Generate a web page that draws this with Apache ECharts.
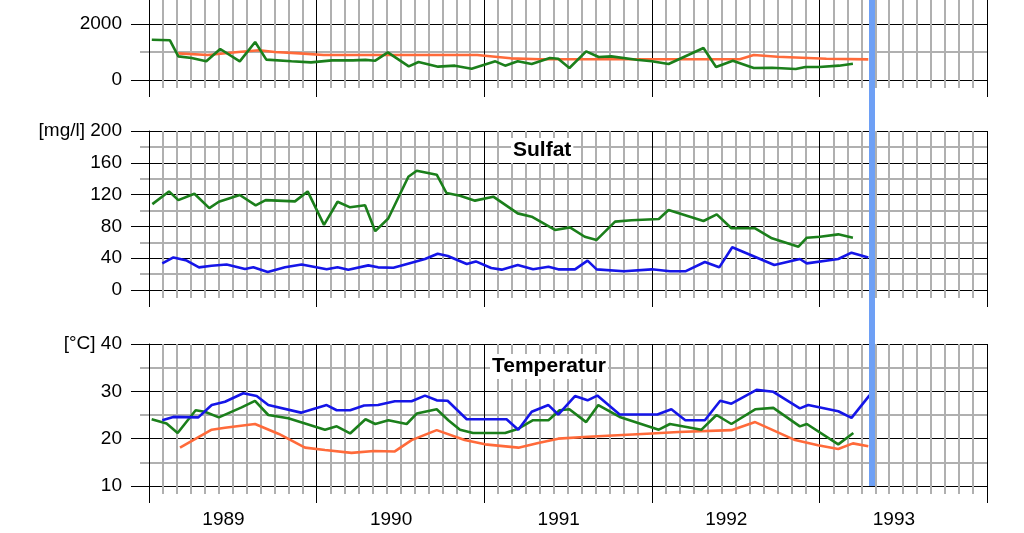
<!DOCTYPE html>
<html>
<head>
<meta charset="utf-8">
<script src="https://cdn.jsdelivr.net/npm/echarts@6/dist/echarts.min.js"></script>
<style>
html,body{margin:0;padding:0;background:#fff;}
#chart{width:1024px;height:533px;}
</style>
</head>
<body>
<div id="chart"></div>
<script>
// x values: months since January 1989
const yearStart = 1989;
const monthsSpan = 60;
const markerMonth = 51.75;

// Top panel (unnamed quantity)
const topGreen = [[0.2,1440],[1.5,1417],[2.1,845],[3.05,786],[4.1,667],[5.1,1107],[6.5,667],[7.6,1357],[8.4,726],[10.2,667],[11.6,631],[13.1,702],[14.6,702],[15.5,720],[16.2,690],[17.1,988],[18.6,488],[19.3,643],[20.7,476],[21.9,512],[23.1,405],[24.8,667],[25.5,512],[26.4,667],[27.4,571],[28.7,786],[29.3,760],[30.1,429],[31.3,1024],[32.2,821],[33.1,845],[34.9,726],[36.0,667],[37.2,571],[39.7,1143],[40.6,464],[41.8,690],[43.3,429],[44.6,440],[46.3,393],[47.0,464],[48.0,464],[49.4,512],[50.4,583]];
const topOrange = [[2.1,950],[4.2,893],[6.4,1000],[7.9,1060],[9.0,1000],[10.8,950],[12.5,893],[23.5,893],[25.9,774],[28.0,740],[42.3,740],[43.3,893],[45.0,833],[48.5,760],[51.5,738]];

// Sulfat [mg/l]
const sulfatGreen = [[0.24,108],[1.43,124],[2.1,113],[3.25,121],[4.32,103],[5.0,111],[6.5,119.5],[7.64,106.5],[8.35,113],[10.45,111.5],[11.36,124],[12.53,82],[13.5,111],[14.4,104],[15.47,106.5],[16.2,74],[17.13,90],[18.57,142.5],[19.17,150],[20.6,145],[21.3,122],[22.27,118.6],[23.34,112.4],[24.65,117.4],[26.4,96.4],[27.4,92.2],[29.07,75.5],[30.14,78.8],[31.2,67],[32.05,63],[33.37,86],[34.55,87.7],[36.5,89.3],[37.2,100.6],[39.7,86.8],[40.65,95.2],[41.7,77.6],[43.4,77.6],[44.6,65],[46.5,54.5],[47.1,65.8],[48.05,67],[49.35,70],[50.4,65.8]];
const sulfatBlue = [[0.95,33.5],[1.75,41],[2.7,37],[3.58,28.5],[4.48,30.6],[5.56,32],[6.87,26.4],[7.47,28.5],[8.5,22.6],[9.74,28.5],[10.93,32],[12.72,26],[13.5,28.5],[14.27,25.6],[15.7,31],[16.4,28.5],[17.5,28],[18.8,34.4],[19.76,39],[20.67,45.6],[21.4,42.8],[22.75,32.7],[23.4,36],[24.5,27.7],[25.25,25.6],[26.4,31.4],[27.5,26],[28.6,29.3],[29.3,26],[30.5,26],[31.4,36.9],[32.05,26],[34.0,23.5],[36.0,26],[37.3,23.5],[38.4,23.5],[39.8,35.2],[40.83,28.5],[41.76,53.7],[44.77,31.4],[46.6,39],[47.1,33.5],[49.35,39],[50.3,47],[51.5,41]];

// Temperatur [°C]
const tempBlue = [[0.95,23.9],[1.74,24.6],[3.53,24.5],[4.49,27.1],[5.44,27.8],[6.75,29.6],[7.71,29],[8.54,27.1],[10.88,25.5],[12.72,27.1],[13.44,26],[14.4,26],[15.4,27],[16.4,27.1],[17.6,27.9],[18.8,27.9],[19.76,29.1],[20.6,28.1],[21.38,28],[22.75,24.1],[25.6,24.1],[26.44,21.9],[27.4,25.7],[28.6,27.1],[29.3,25.1],[30.5,29],[31.4,28.1],[32.1,29.1],[33.7,25.1],[36.4,25.1],[37.4,26.2],[38.4,23.9],[39.8,23.9],[40.9,28],[41.7,27.4],[43.5,30.3],[44.7,29.9],[46.6,26.4],[47.2,27.1],[49.35,25.8],[50.3,24.4],[51.6,29.2]];
const tempGreen = [[0.19,24.1],[1.26,23.2],[2.05,21.2],[3.34,26],[4.0,25.7],[5.0,24.5],[6.63,26.6],[7.59,28],[8.54,25],[9.97,24.3],[12.6,21.9],[13.44,22.6],[14.4,21.1],[15.5,24.1],[16.2,23.1],[17.14,23.9],[18.45,23.1],[19.17,25.3],[20.6,26.2],[21.43,23.9],[22.27,21.9],[23.2,21.2],[25.5,21.2],[26.45,22.1],[27.5,23.9],[28.6,23.9],[29.4,26],[30.1,26.2],[31.3,23.5],[32.17,27.1],[33.7,24.6],[36.5,21.9],[37.3,23.1],[39.56,21.9],[40.63,25],[41.7,23.1],[43.4,26.2],[44.7,26.5],[46.6,22.6],[47.1,23.1],[49.35,18.8],[50.43,21.2]];
const tempOrange = [[2.22,18.1],[4.49,21.9],[5.44,22.3],[7.59,23.1],[9.3,21.0],[11.17,18.1],[12.6,17.6],[14.5,17],[16.1,17.4],[17.6,17.3],[18.8,19.7],[20.6,21.8],[22.6,19.7],[24.06,18.8],[26.45,18.1],[27.87,19.1],[29.3,20],[31.45,20.4],[36.0,21.1],[37.9,21.4],[41.7,21.8],[43.4,23.5],[46.26,19.7],[47.9,18.6],[49.35,17.8],[50.4,19],[51.5,18.4]];

const panelTitles = ['Sulfat', 'Temperatur'];
const unitLabels = ['[mg/l]', '[°C]'];

const FONT = "'Liberation Sans', Arial, sans-serif";
const GREEN = '#1b7f1b', BLUE = '#1515e8', ORANGE = '#ff6a3a', BAR = '#6ea0f5';
const GRAY = '#b0b0b0';

function xAxis(gi, showLabels) {
  return {
    type: 'value', gridIndex: gi, min: 0, max: monthsSpan, interval: 12,
    axisLine: {show: true, lineStyle: {color: '#000', width: 1}},
    axisTick: {show: true, length: 17, lineStyle: {color: '#000', width: 1}},
    minorTick: {show: true, splitNumber: 12, length: 8, lineStyle: {color: GRAY, width: 2}},
    splitLine: {show: true, lineStyle: {color: '#000', width: 1}},
    minorSplitLine: {show: true, lineStyle: {color: GRAY, width: 2}},
    axisLabel: {
      show: showLabels, color: '#000', fontFamily: FONT, fontSize: 19, margin: 24,
      align: 'center', padding: [0, 0, 0, 149],
      formatter: v => v >= monthsSpan ? '' : String(yearStart + v / 12)
    }
  };
}
function yAxis(gi, min, max, interval, topLabel) {
  return {
    type: 'value', gridIndex: gi, min, max, interval,
    axisLine: {show: true, lineStyle: {color: '#000', width: 1}},
    axisTick: {show: true, length: 18, lineStyle: {color: '#000', width: 1}},
    minorTick: {show: true, splitNumber: 2, length: 9, lineStyle: {color: GRAY, width: 2}},
    splitLine: {show: true, lineStyle: {color: '#000', width: 1}},
    minorSplitLine: {show: true, lineStyle: {color: GRAY, width: 2}},
    axisLabel: {
      color: '#000', fontFamily: FONT, fontSize: 19, margin: 27,
      formatter: v => (v === max && topLabel) ? topLabel + ' ' + v : String(v)
    }
  };
}
function line(gi, data, color) {
  return {type: 'line', xAxisIndex: gi, yAxisIndex: gi, data, symbol: 'none',
    lineStyle: {color, width: 2.6}, itemStyle: {color}, z: 3, silent: true};
}
function grid(top, height, bottom) {
  const g = {left: 149, right: 37, top, containLabel: false, outerBoundsMode: 'none'};
  if (height != null) g.height = height; else g.bottom = bottom;
  return g;
}

const chart = echarts.init(document.getElementById('chart'), null, {renderer: 'canvas'});
chart.setOption({
  animation: false,
  backgroundColor: '#fff',
  title: [
    {text: panelTitles[0], left: 511, top: 138, padding: [2, 2], backgroundColor: '#fff',
     textStyle: {fontFamily: FONT, fontWeight: 'bold', fontSize: 21, color: '#000'}},
    {text: panelTitles[1], left: 490, top: 354, padding: [2, 2], backgroundColor: '#fff',
     textStyle: {fontFamily: FONT, fontWeight: 'bold', fontSize: 21, color: '#000'}}
  ],
  grid: [
    grid(-32, 112),
    grid(131, 159),
    grid(344, 142),
    grid(-32, null, 47)
  ],
  xAxis: [
    xAxis(0, false), xAxis(1, false), xAxis(2, true),
    {type: 'value', gridIndex: 3, min: 0, max: monthsSpan, show: false}
  ],
  yAxis: [
    yAxis(0, 0, 4000, 2000, null),
    yAxis(1, 0, 200, 40, unitLabels[0]),
    yAxis(2, 10, 40, 10, unitLabels[1]),
    {type: 'value', gridIndex: 3, min: 0, max: 1, show: false}
  ],
  series: [
    line(0, topOrange, ORANGE),
    line(0, topGreen, GREEN),
    line(1, sulfatGreen, GREEN),
    line(1, sulfatBlue, BLUE),
    line(2, tempOrange, ORANGE),
    line(2, tempGreen, GREEN),
    line(2, tempBlue, BLUE),
    {type: 'line', xAxisIndex: 3, yAxisIndex: 3, data: [], z: 10, silent: true,
     markLine: {silent: true, symbol: ['none', 'none'], label: {show: false},
       lineStyle: {color: BAR, width: 6, type: 'solid'},
       data: [{xAxis: markerMonth}]}}
  ]
});
</script>
</body>
</html>
